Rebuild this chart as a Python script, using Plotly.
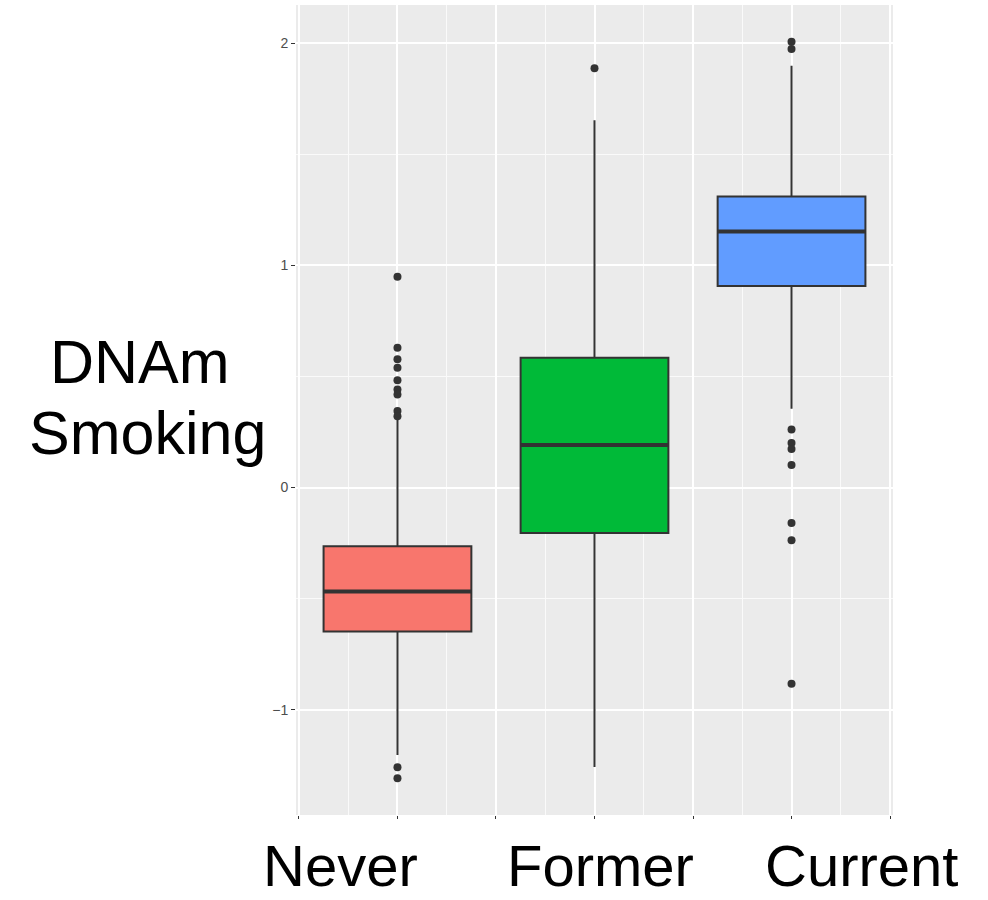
import plotly.graph_objects as go

# ---------------- data ----------------
categories = ["Never", "Former", "Current"]
cat_pos = [1, 3, 5]
colors = ["#F8766D", "#00BA38", "#619CFF"]
q1 = [-0.647, -0.204, 0.907]
median = [-0.467, 0.191, 1.152]
q3 = [-0.264, 0.584, 1.309]
lowerfence = [-1.203, -1.257, 0.355]
upperfence = [0.306, 1.653, 1.898]
outliers = [
    [0.949, 0.629, 0.577, 0.539, 0.483, 0.441, 0.419, 0.344, 0.321, -1.258, -1.308],
    [1.886],
    [2.006, 1.973, 0.261, 0.201, 0.174, 0.102, -0.159, -0.237, -0.883],
]
ytick_vals = [-1, 0, 1, 2]
box_width = 1.5

FONT = "Liberation Sans, Arial, sans-serif"
LINE = "#333333"

fig = go.Figure()
for i, cat in enumerate(categories):
    fig.add_trace(go.Box(
        x=[cat_pos[i]], q1=[q1[i]], median=[median[i]], q3=[q3[i]],
        lowerfence=[lowerfence[i]], upperfence=[upperfence[i]],
        width=box_width, whiskerwidth=0,
        fillcolor=colors[i], line=dict(color=LINE, width=2),
        boxpoints=False, name=cat, showlegend=False, hoverinfo="skip",
    ))
    # thicker median line
    fig.add_trace(go.Scatter(
        x=[cat_pos[i] - box_width / 2, cat_pos[i] + box_width / 2],
        y=[median[i], median[i]], mode="lines",
        line=dict(color=LINE, width=4), showlegend=False, hoverinfo="skip",
    ))
    fig.add_trace(go.Scatter(
        x=[cat_pos[i]] * len(outliers[i]), y=outliers[i], mode="markers",
        marker=dict(color=LINE, size=8), showlegend=False, hoverinfo="skip",
    ))

fig.update_layout(
    width=988, height=900,
    margin=dict(l=296, r=95, t=5, b=85),
    paper_bgcolor="white", plot_bgcolor="#EBEBEB",
    font=dict(family=FONT),
    xaxis=dict(
        range=[-0.03, 6.03], tickmode="linear", tick0=0, dtick=1,
        showticklabels=False, ticks="outside", ticklen=3, tickwidth=1,
        tickcolor=LINE, showgrid=True, gridcolor="white", gridwidth=1.6,
        zeroline=False, showline=False,
        minor=dict(dtick=0.5, tick0=0, showgrid=True, gridcolor="#FAFAFA", gridwidth=1),
    ),
    yaxis=dict(
        range=[-1.473, 2.171], tickvals=ytick_vals,
        ticks="outside", ticklen=4, tickwidth=1, tickcolor=LINE,
        tickfont=dict(size=14, color="#4D4D4D", family=FONT),
        showgrid=True, gridcolor="white", gridwidth=1.6,
        zeroline=False, showline=False,
        minor=dict(dtick=0.5, tick0=0, showgrid=True, gridcolor="#FAFAFA", gridwidth=1),
    ),
)

def px_x(p):
    return (p - 296) / 597

def px_y(p):
    return (815 - p) / 810

label_x_px = [340, 600, 861]
for i, cat in enumerate(categories):
    fig.add_annotation(
        x=px_x(label_x_px[i]), y=px_y(899), xref="paper", yref="paper",
        text=cat, showarrow=False, xanchor="center", yanchor="bottom",
        borderpad=0,
        font=dict(size=58, color="black", family=FONT),
    )

fig.add_annotation(x=px_x(140), y=px_y(362), xref="paper", yref="paper",
                   text="DNAm", showarrow=False, xanchor="center", yanchor="middle",
                   font=dict(size=61, color="black", family=FONT))
fig.add_annotation(x=px_x(147), y=px_y(433), xref="paper", yref="paper",
                   text="Smoking", showarrow=False, xanchor="center", yanchor="middle",
                   font=dict(size=61, color="black", family=FONT))

fig.write_html("out.html", config={"displayModeBar": False},
               post_script="document.body.style.margin='0';")
